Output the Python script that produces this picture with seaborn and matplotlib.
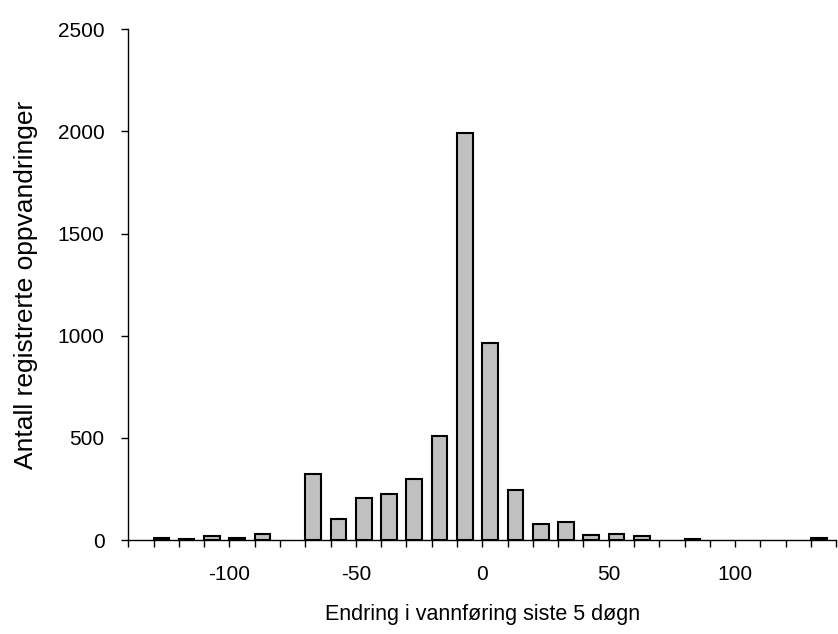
import numpy as np
import pandas as pd
import matplotlib
matplotlib.use('Agg')
import matplotlib.pyplot as plt
import seaborn as sns


## data: lower edge of each 10-unit bin and count of registrations
bin_start = [-130, -120, -110, -100, -90, -70, -60, -50, -40, -30, -20, -10,
             0, 10, 20, 30, 40, 50, 60, 80, 130]
counts = [12, 6, 22, 12, 32, 323, 106, 204, 225, 301, 512, 1992,
          967, 246, 78, 91, 26, 29, 20, 5, 10]

x_ticks = [-100, -50, 0, 50, 100]
y_ticks = [0, 500, 1000, 1500, 2000, 2500]

bar_w = 6.2
df = pd.DataFrame({'start': bin_start, 'count': counts})
df['mid'] = df['start'] + bar_w / 2

sns.set_style('ticks')
plt.rcParams['font.family'] = ['Liberation Sans', 'DejaVu Sans']
plt.rcParams['axes.unicode_minus'] = False
plt.rcParams['text.color'] = 'black'
plt.rcParams['axes.labelcolor'] = 'black'
plt.rcParams['xtick.color'] = 'black'
plt.rcParams['ytick.color'] = 'black'
plt.rcParams['axes.edgecolor'] = 'black'

fig = plt.figure(figsize=(8.38, 6.34), dpi=100)
ax = fig.add_axes([0.153, 0.148, 0.845, 0.806])

sns.barplot(data=df, x='mid', y='count', native_scale=True, width=bar_w / 10,
            color='#c0c0c0', saturation=1, edgecolor='black', linewidth=1.5, ax=ax)

ax.set_xlim(-140, 140)
ax.set_ylim(0, 2500)
ax.set_xticks(x_ticks)
ax.set_xticks(np.arange(-140, 141, 10), minor=True)
ax.set_yticks(y_ticks)
ax.tick_params(axis='x', which='both', direction='out', length=5, width=1, pad=13, labelsize=15)
ax.tick_params(axis='y', direction='out', length=5, width=1, pad=12, labelsize=15)

ax.set_xlabel('Endring i vannføring siste 5 døgn', fontsize=15.5, labelpad=14)
ax.set_ylabel('Antall registrerte oppvandringer', fontsize=19, labelpad=14)

sns.despine(ax=ax)
ax.spines['left'].set_linewidth(1)
ax.spines['bottom'].set_linewidth(1)

fig.savefig('out.png', dpi=100)
